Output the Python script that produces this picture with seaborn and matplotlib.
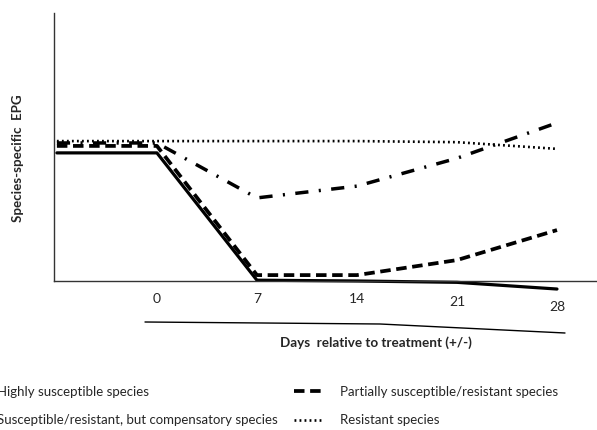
import matplotlib
matplotlib.use('Agg')
import matplotlib.pyplot as plt
import matplotlib.transforms as mtransforms
from matplotlib.lines import Line2D
import seaborn as sns

# Schematic data (species-specific EPG, arbitrary units)
days = [-7, 0, 7, 14, 21, 28]
day_ticks = [0, 7, 14, 21, 28]
tick_labels = ['0', '7', '14', '21', '28']

highly_susceptible = [47.8, 47.8, 0.3, 0.0, -0.5, -3.0]
compensatory = [51.5, 51.5, 31.0, 35.4, 45.8, 59.0]
partially_susceptible = [50.4, 50.4, 2.2, 2.2, 7.8, 19.0]
resistant = [52.2, 52.2, 52.2, 52.2, 51.8, 49.3]

labels = [
    'Highly susceptible species',
    'Susceptible/resistant, but compensatory species',
    'Partially susceptible/resistant species',
    'Resistant species',
]

sns.set_style('white')
plt.rcParams['font.family'] = ['Lato', 'DejaVu Sans']

fig = plt.figure(figsize=(5.97, 4.30), dpi=100)
ax = fig.add_axes([0.0905, 0.3216, 0.9095, 0.6482])

series = [
    (highly_susceptible, '-', 2.3),
    (compensatory, (0, (3.8, 3.0, 0.6, 3.0)), 2.5),
    (partially_susceptible, (0, (2.8, 1.5)), 2.7),
    (resistant, (0, (0.7, 1.2)), 1.9),
]
for (vals, ls, lw), lab in zip(series, labels):
    sns.lineplot(x=days, y=vals, ax=ax, color='black', linewidth=lw,
                 linestyle=ls, label=lab)

if ax.get_legend() is not None:
    ax.get_legend().remove()

ax.set_xlim(-7.2, 30.8)
ax.set_ylim(-4, 100)

# axes look
for side in ['top', 'right']:
    ax.spines[side].set_visible(False)
ax.spines['bottom'].set_position(('data', 0))
ax.spines['left'].set_bounds(0, 100)
for side in ['left', 'bottom']:
    ax.spines[side].set_color('#333333')
    ax.spines[side].set_linewidth(1.0)

ax.set_yticks([])
ax.set_xticks(day_ticks)
ax.set_xticklabels(tick_labels, fontsize=10)
ax.tick_params(axis='x', length=0, pad=9)
ax.set_xlabel('')
ax.set_ylabel('')

# the hand-placed labels drift slightly downwards to the right
drops = [0, 0, 0, 3, 8]
for lbl, d in zip(ax.get_xticklabels(), drops):
    lbl.set_transform(lbl.get_transform() +
                      mtransforms.ScaledTranslation(0, -d / 100, fig.dpi_scale_trans))

# rule under the day labels
fig.add_artist(Line2D([145 / 597, 380 / 597, 565 / 597],
                      [1 - 322 / 430, 1 - 324 / 430, 1 - 333 / 430],
                      transform=fig.transFigure, color='black', linewidth=1.0))

fig.text(376 / 597, 1 - 343 / 430, 'Days  relative to treatment (+/-)',
         ha='center', va='center', fontsize=9.7, fontweight='bold')
fig.text(18 / 597, 1 - 158 / 430, 'Species-specific  EPG', rotation=90,
         ha='center', va='center', fontsize=9.6, fontweight='bold')

handles, hl = ax.get_legend_handles_labels()
fig.legend(handles, hl, ncol=2, loc='upper left',
           bbox_to_anchor=(-49 / 597, 1 - 386 / 430),
           frameon=False, fontsize=9.5, handlelength=2.2, handletextpad=1.3,
           columnspacing=1.2, labelspacing=1.24, borderaxespad=0, borderpad=0)

fig.savefig('out.png', dpi=100)
